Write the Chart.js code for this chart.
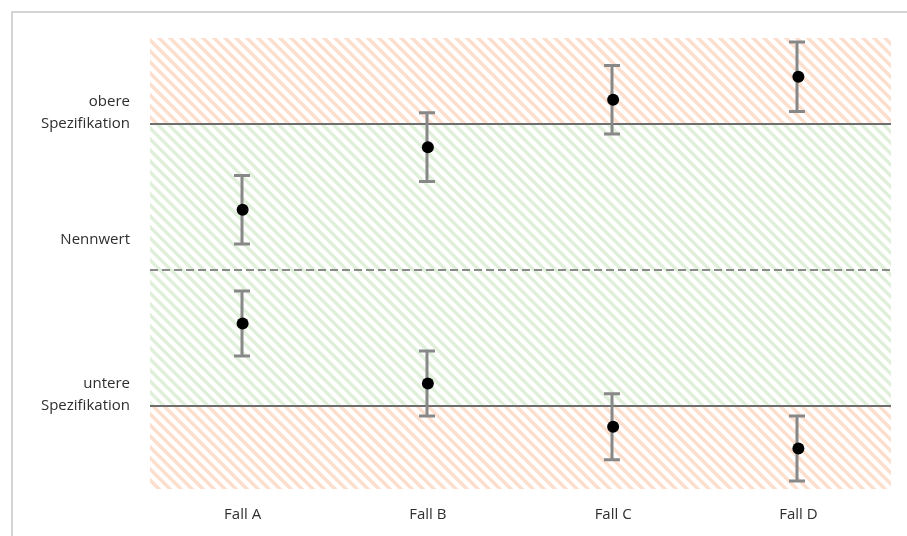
<!DOCTYPE html>
<html>
<head>
<meta charset="utf-8">
<script src="https://cdn.jsdelivr.net/npm/chart.js@4/dist/chart.umd.min.js"></script>
<style>
  html, body { margin: 0; padding: 0; background: #ffffff; }
  #wrap { position: relative; width: 907px; height: 536px; }
</style>
</head>
<body>
<div id="wrap"><canvas id="c" width="907" height="536"></canvas></div>
<script>
// ---- data ----
const categories = ["Fall A", "Fall B", "Fall C", "Fall D"];
const upperPoints = [61.9, 75.8, 86.3, 91.4];
const upperErrors = [7.6, 7.6, 7.6, 7.7];
const lowerPoints = [36.7, 23.4, 13.8, 9.0];
const lowerErrors = [7.2, 7.2, 7.3, 7.2];
const axisMin = 0;
const axisMax = 100;
const upperSpec = 80.9;
const nominal = 48.6;
const lowerSpec = 18.4;
const refLabels = ["obere\nSpezifikation", "Nennwert", "untere\nSpezifikation"];
const refValues = [upperSpec, nominal, lowerSpec];

// ---- styles ----
function stripePattern(color) {
  const p = 11;
  const c = document.createElement('canvas');
  c.width = p; c.height = p;
  const g = c.getContext('2d');
  g.strokeStyle = color;
  g.lineWidth = 3.4;
  g.lineCap = 'square';
  g.beginPath();
  for (let k = -1; k <= 1; k++) {
    g.moveTo(k * p - 2, -2);
    g.lineTo(k * p + p + 2, p + 2);
  }
  g.stroke();
  return document.getElementById('c').getContext('2d').createPattern(c, 'repeat');
}
const redFill = stripePattern('#fcdecd');
const greenFill = stripePattern('#e0efd9');

const textColor = '#2e2e2e';
const fontFamily = "'Open Sans', 'Noto Sans', sans-serif";

const overlay = {
  id: 'overlay',
  beforeDraw(chart) {
    const ctx = chart.ctx;
    ctx.save();
    ctx.strokeStyle = '#d4d4d4';
    ctx.lineWidth = 2;
    ctx.strokeRect(12, 12, 2000, 2000);
    ctx.restore();
  },
  beforeDatasetDraw(chart, args) {
    if (args.index !== 1) return;
    const ctx = chart.ctx;
    const y = chart.scales.y, x = chart.scales.x;
    const a = chart.chartArea;
    ctx.save();
    // reference lines
    ctx.lineWidth = 2;
    ctx.strokeStyle = '#6e6e6e';
    [upperSpec, lowerSpec].forEach(v => {
      const py = Math.round(y.getPixelForValue(v));
      ctx.beginPath(); ctx.moveTo(a.left, py); ctx.lineTo(a.right, py); ctx.stroke();
    });
    ctx.strokeStyle = '#8a8a8a';
    ctx.setLineDash([8, 4]);
    const pn = Math.round(y.getPixelForValue(nominal));
    ctx.beginPath(); ctx.moveTo(a.left, pn); ctx.lineTo(a.right, pn); ctx.stroke();
    ctx.setLineDash([]);
    // error bars
    ctx.strokeStyle = '#888888';
    ctx.lineWidth = 3;
    const cap = 8;
    const draw = (vals, errs) => {
      vals.forEach((v, i) => {
        const px = Math.round(x.getPixelForValue(i)) - 1;
        const t = y.getPixelForValue(v + errs[i]);
        const b = y.getPixelForValue(v - errs[i]);
        ctx.beginPath();
        ctx.moveTo(px, t); ctx.lineTo(px, b);
        ctx.moveTo(px - cap, t); ctx.lineTo(px + cap, t);
        ctx.moveTo(px - cap, b); ctx.lineTo(px + cap, b);
        ctx.stroke();
      });
    };
    draw(upperPoints, upperErrors);
    draw(lowerPoints, lowerErrors);
    ctx.restore();
  },
  afterDraw(chart) {
    const ctx = chart.ctx;
    const y = chart.scales.y;
    const offsets = [0, -30, 0];
    ctx.save();
    ctx.fillStyle = textColor;
    ctx.font = "15px " + fontFamily;
    ctx.textAlign = 'right';
    ctx.textBaseline = 'middle';
    refLabels.forEach((lab, i) => {
      const lines = lab.split('\n');
      const base = y.getPixelForValue(refValues[i]) + offsets[i];
      lines.forEach((ln, j) => {
        const py = base - (lines.length - 1 - j) * 22;
        ctx.fillText(ln, 130, py);
      });
    });
    ctx.restore();
  }
};

const band = (lo, hi) => categories.map(() => [lo, hi]);
const barBase = { type: 'bar', grouped: false, barPercentage: 1, categoryPercentage: 1, borderWidth: 0 };

new Chart(document.getElementById('c'), {
  data: {
    labels: categories,
    datasets: [
      { type: 'line', data: upperPoints, showLine: false, pointRadius: 6, pointBackgroundColor: '#000', pointBorderColor: '#000', pointBorderWidth: 0 },
      { type: 'line', data: lowerPoints, showLine: false, pointRadius: 6, pointBackgroundColor: '#000', pointBorderColor: '#000', pointBorderWidth: 0 },
      Object.assign({ data: band(axisMin, lowerSpec), backgroundColor: redFill }, barBase),
      Object.assign({ data: band(lowerSpec, upperSpec), backgroundColor: greenFill }, barBase),
      Object.assign({ data: band(upperSpec, axisMax), backgroundColor: redFill }, barBase)
    ]
  },
  options: {
    responsive: false,
    animation: false,
    events: [],
    layout: { autoPadding: false, padding: { left: 150, right: 16, top: 38, bottom: 0 } },
    plugins: { legend: { display: false }, tooltip: { enabled: false } },
    scales: {
      x: {
        grid: { display: false, drawTicks: false },
        border: { display: false },
        ticks: { color: textColor, font: { family: fontFamily, size: 15 }, padding: 17 },
        afterFit(s) { s.height = 47; }
      },
      y: {
        display: false,
        min: axisMin, max: axisMax
      }
    }
  },
  plugins: [overlay]
});
</script>
</body>
</html>
